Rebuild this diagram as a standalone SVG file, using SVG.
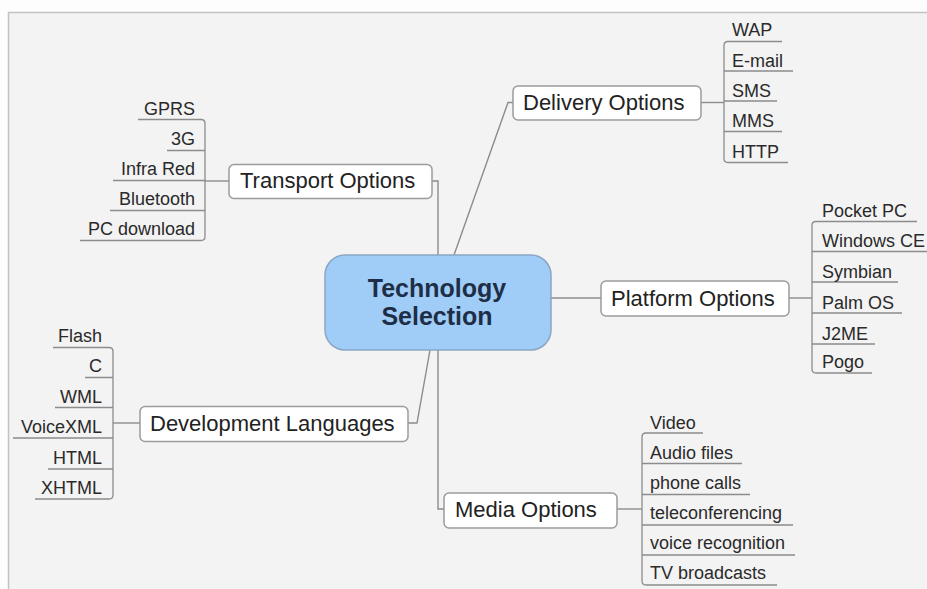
<svg xmlns="http://www.w3.org/2000/svg" width="927" height="589" viewBox="0 0 927 589">
<style>
.bg{fill:#f3f3f3}
.frame{stroke:#c2c2c2;stroke-width:1.5;fill:none}
.line{stroke:#8c8c8c;stroke-width:1.4;fill:none}
.ul{stroke:#8c8c8c;stroke-width:1.3;fill:none}
.box{fill:#ffffff;stroke:#9c9c9c;stroke-width:1.5}
.central{fill:#9fcdf8;stroke:#8aa6c2;stroke-width:1.5}
.t1{font-family:"Liberation Sans",Arial,sans-serif;font-size:22px;fill:#222222}
.t2{font-family:"Liberation Sans",Arial,sans-serif;font-size:18px;fill:#2a2a2a}
.tc{font-family:"Liberation Sans",Arial,sans-serif;font-size:25px;font-weight:bold;fill:#1f2e47;text-anchor:middle}
.r{text-anchor:end}
</style>
<rect x="0" y="0" width="927" height="589" fill="#fdfdfd"/>
<rect class="bg" x="8.5" y="12.5" width="918.5" height="576.5"/>
<path class="frame" d="M8.5 589 V12.5 H927"/>

<g id="connectors">
  <path class="line" d="M432 181 H438 V255"/>
  <path class="line" d="M454 255 L508 102.5 H513"/>
  <path class="line" d="M551 298 H601"/>
  <path class="line" d="M430 350 L417 423 H408"/>
  <path class="line" d="M438 350 V509 H444"/>
  <path class="line" d="M701 102.5 H724"/>
  <path class="line" d="M205 181 H229"/>
  <path class="line" d="M789 298 H812"/>
  <path class="line" d="M113 423 H140"/>
  <path class="line" d="M617 509 H642"/>
</g>

<g id="central">
  <rect class="central" x="325" y="255" width="226" height="95" rx="20" ry="20"/>
  <text class="tc" x="437" y="297">Technology</text>
  <text class="tc" x="437" y="325">Selection</text>
</g>

<g id="transport">
  <rect class="box" x="229" y="164.5" width="203" height="34" rx="5"/>
  <text class="t1" x="240" y="188">Transport Options</text>
</g>
<g id="transport-children">
  <path class="ul" d="M201 119.5 Q205 119.5 205 123.5 V236.5 Q205 240.5 201 240.5"/>
  <path class="ul" d="M138 119.5 H201 M167 150.5 H205 M113 180.5 H205 M110 210.5 H205 M80 240.5 H201"/>
  <text class="t2 r" x="195" y="115">GPRS</text>
  <text class="t2 r" x="195" y="145">3G</text>
  <text class="t2 r" x="195" y="175">Infra Red</text>
  <text class="t2 r" x="195" y="205">Bluetooth</text>
  <text class="t2 r" x="195" y="235">PC download</text>
</g>

<g id="delivery">
  <rect class="box" x="513" y="86" width="188" height="34" rx="5"/>
  <text class="t1" x="523" y="110">Delivery Options</text>
</g>
<g id="delivery-children">
  <path class="ul" d="M728 41.5 Q724 41.5 724 45.5 V158.5 Q724 162.5 728 162.5"/>
  <path class="ul" d="M728 41.5 H782 M724 71 H793 M724 101 H777 M724 131.5 H782 M728 162.5 H788"/>
  <text class="t2" x="732" y="36">WAP</text>
  <text class="t2" x="732" y="66.5">E-mail</text>
  <text class="t2" x="732" y="96.5">SMS</text>
  <text class="t2" x="732" y="127">MMS</text>
  <text class="t2" x="732" y="158">HTTP</text>
</g>

<g id="platform">
  <rect class="box" x="601" y="281" width="188" height="35" rx="5"/>
  <text class="t1" x="611" y="305.5">Platform Options</text>
</g>
<g id="platform-children">
  <path class="ul" d="M816 221.5 Q812 221.5 812 225.5 V369 Q812 373 816 373"/>
  <path class="ul" d="M816 221.5 H917 M812 251.5 H927 M812 282 H898 M812 313 H902 M812 344 H875 M816 373 H872"/>
  <text class="t2" x="822" y="217">Pocket PC</text>
  <text class="t2" x="822" y="247">Windows CE</text>
  <text class="t2" x="822" y="277.5">Symbian</text>
  <text class="t2" x="822" y="308.5">Palm OS</text>
  <text class="t2" x="822" y="339.5">J2ME</text>
  <text class="t2" x="822" y="368">Pogo</text>
</g>

<g id="development">
  <rect class="box" x="140" y="406.5" width="268" height="35" rx="5"/>
  <text class="t1" x="150" y="431">Development Languages</text>
</g>
<g id="development-children">
  <path class="ul" d="M109 347.5 Q113 347.5 113 351.5 V495 Q113 499 109 499"/>
  <path class="ul" d="M53 347.5 H109 M85 377.5 H113 M55 407.5 H113 M13 438 H113 M48 469 H113 M35 499 H109"/>
  <text class="t2 r" x="102" y="342">Flash</text>
  <text class="t2 r" x="102" y="372">C</text>
  <text class="t2 r" x="102" y="402.5">WML</text>
  <text class="t2 r" x="102" y="433">VoiceXML</text>
  <text class="t2 r" x="102" y="463.5">HTML</text>
  <text class="t2 r" x="102" y="493.5">XHTML</text>
</g>

<g id="media">
  <rect class="box" x="444" y="493" width="173" height="35" rx="5"/>
  <text class="t1" x="455" y="517">Media Options</text>
</g>
<g id="media-children">
  <path class="ul" d="M646 433 Q642 433 642 437 V581 Q642 585 646 585"/>
  <path class="ul" d="M646 433 H703 M642 463.5 H742 M642 494.5 H750 M642 525 H793 M642 555 H795 M646 585 H777"/>
  <text class="t2" x="650" y="428.5">Video</text>
  <text class="t2" x="650" y="458.5">Audio files</text>
  <text class="t2" x="650" y="488.5">phone calls</text>
  <text class="t2" x="650" y="518.5">teleconferencing</text>
  <text class="t2" x="650" y="548.5">voice recognition</text>
  <text class="t2" x="650" y="578.5">TV broadcasts</text>
</g>
</svg>
